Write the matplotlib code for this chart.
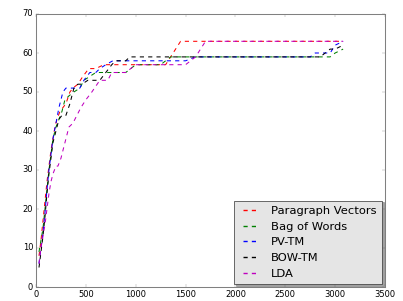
import matplotlib
matplotlib.use('Agg')
import matplotlib.pyplot as plt

# values (x = documents, y = score)
pv_x = [30, 50, 70, 90, 110, 130, 150, 170, 190, 210, 240, 270, 300, 340, 370, 420, 470, 530, 600, 680, 760, 1000, 1300, 1350, 1400, 1450, 3080]
pv_y = [8, 12, 17, 22, 27, 31, 35, 38, 41, 43, 45, 46, 47, 50, 51, 52, 54, 56, 56, 57, 57, 57, 57, 59, 61, 63, 63]

bow_x = [30, 50, 70, 90, 110, 130, 150, 170, 200, 230, 260, 290, 330, 380, 440, 480, 540, 600, 700, 900, 950, 1000, 1250, 1300, 1350, 2900, 2950, 3000, 3080]
bow_y = [9, 12, 15, 20, 25, 30, 34, 38, 41, 43, 45, 48, 49, 50, 51, 53, 54, 55, 55, 55, 56, 57, 57, 58, 59, 59, 59, 60, 61]

pvtm_x = [30, 50, 70, 90, 110, 130, 150, 170, 200, 230, 270, 300, 350, 440, 480, 540, 600, 640, 700, 770, 1000, 1500, 1600, 2750, 2800, 2950, 3000, 3080]
pvtm_y = [6, 10, 14, 19, 25, 30, 34, 38, 42, 46, 50, 51, 51, 51, 53, 55, 55, 56, 57, 58, 58, 58, 59, 59, 60, 60, 62, 63]

bowtm_x = [30, 50, 70, 90, 110, 130, 150, 170, 200, 230, 260, 300, 340, 380, 420, 460, 520, 640, 700, 760, 800, 900, 940, 2850, 2900, 2950, 3000, 3080]
bowtm_y = [5, 9, 13, 18, 24, 29, 33, 37, 40, 43, 44, 44, 47, 51, 52, 52, 53, 53, 55, 57, 58, 58, 59, 59, 60, 61, 61, 62]

lda_x = [30, 50, 70, 90, 110, 130, 150, 170, 200, 220, 250, 290, 330, 370, 410, 450, 500, 560, 640, 720, 760, 900, 950, 1000, 1500, 1550, 1600, 1650, 1700, 3080]
lda_y = [6, 10, 13, 16, 20, 24, 27, 29, 31, 31, 33, 37, 41, 42, 44, 46, 48, 50, 53, 53, 55, 55, 56, 57, 57, 58, 59, 61, 63, 63]

plt.style.use('classic')
plt.rcParams['font.size'] = 12

fig = plt.figure(figsize=(8.06, 6.02), dpi=50, facecolor='white')
ax = fig.add_axes([36 / 403, 14 / 301, 349 / 403, 273 / 301])

ax.plot(pv_x, pv_y, 'r--', lw=1.5, label='Paragraph Vectors')
ax.plot(bow_x, bow_y, 'g--', lw=1.5, label='Bag of Words')
ax.plot(pvtm_x, pvtm_y, 'b--', lw=1.5, label='PV-TM')
ax.plot(bowtm_x, bowtm_y, 'k--', lw=1.5, label='BOW-TM')
ax.plot(lda_x, lda_y, 'm--', lw=1.5, label='LDA')

ax.set_xlim(0, 3500)
ax.set_ylim(0, 70)
for s in ax.spines.values():
    s.set_edgecolor('#808080')
    s.set_linewidth(1.5)
ax.tick_params(color='#808080')

leg = ax.legend(loc='lower right', shadow=True, fancybox=False, fontsize=16.5,
                borderaxespad=0.25, labelspacing=0.5, borderpad=0.45)
leg.get_frame().set_facecolor('#e5e5e5')
leg.get_frame().set_edgecolor('#303030')
for ln in leg.get_lines():
    ln.set_linewidth(2)

fig.savefig('out.png', dpi=50, facecolor='white')
